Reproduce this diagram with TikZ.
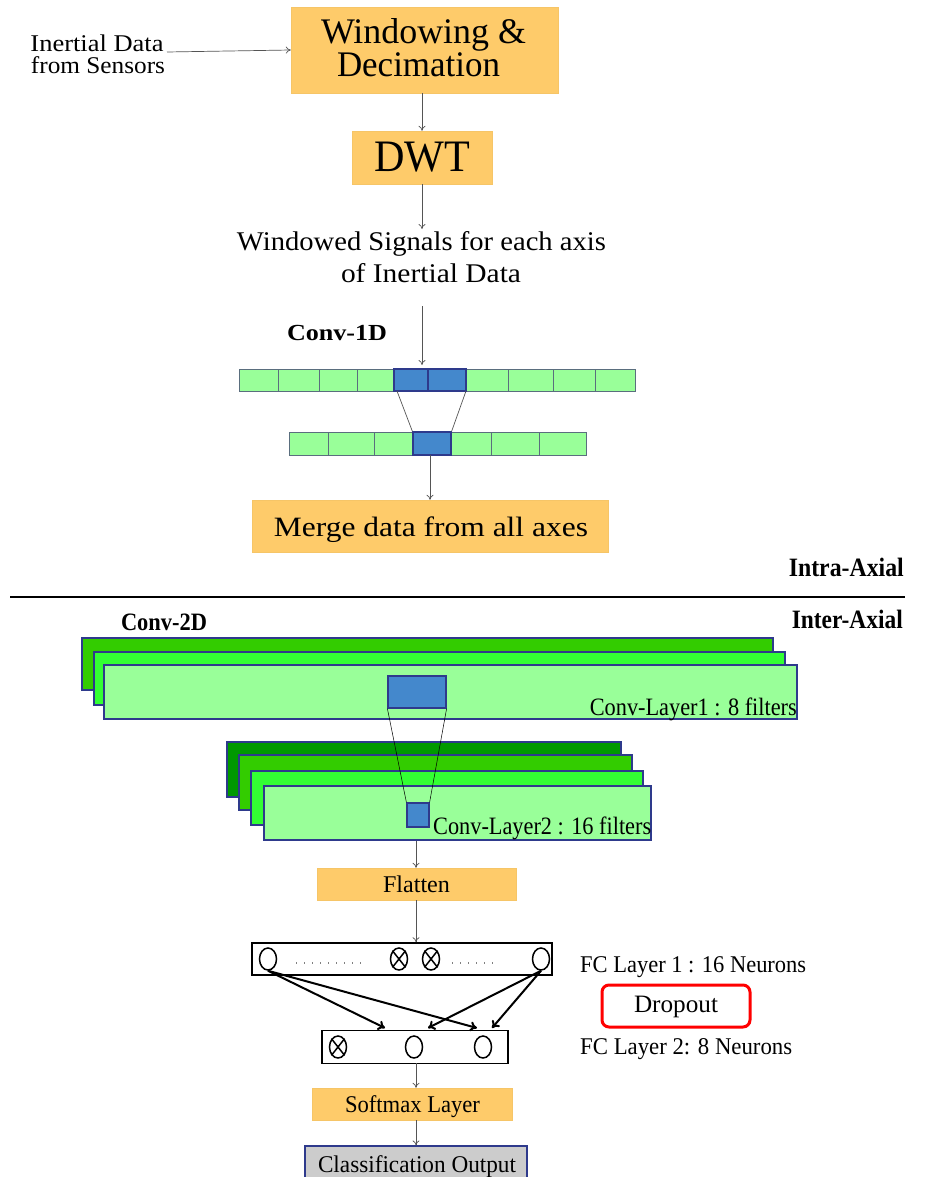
\documentclass[tikz,border=0pt]{standalone}
\usepackage{fontspec}
\setmainfont{Liberation Serif}
\usepackage{graphicx}
\usetikzlibrary{arrows.meta,shapes.geometric}
\definecolor{orng}{HTML}{FECB6A}
\definecolor{lgreen}{HTML}{99FF99}
\definecolor{bgreen}{HTML}{33FF33}
\definecolor{mgreen}{HTML}{33CC00}
\definecolor{dgreen}{HTML}{009900}
\definecolor{cblue}{HTML}{4488CC}
\definecolor{bord}{HTML}{2E3A8C}
\definecolor{cellb}{HTML}{5A6E7E}
\definecolor{gline}{HTML}{555555}
\definecolor{gray1}{HTML}{CCCCCC}
\newcommand{\tw}[2]{\resizebox{#1pt}{\height}{#2}}
\newcommand{\fsz}[1]{\fontsize{#1}{#1}\selectfont}
\tikzset{
  obox/.style={draw=orng!85!black!20!orng, fill=orng, inner sep=0pt, line width=0.4pt},
  arr/.style={draw=gline, line width=0.7pt, -{To[length=5pt,width=7pt]}},
  farr/.style={draw=black, line width=2pt, -{To[length=7pt,width=10pt]}},
  cell/.style={draw=cellb, fill=lgreen, line width=0.8pt},
  bcell/.style={draw=bord, fill=cblue, line width=1.2pt},
  layer/.style={draw=bord, line width=1.2pt},
  neur/.style={draw=black, line width=1.5pt, ellipse, minimum width=17pt, minimum height=22pt, inner sep=0pt},
  lbl/.style={anchor=base, inner sep=0pt},
}
\begin{document}
\begin{tikzpicture}[x=1pt,y=-1pt]
\useasboundingbox (0,0) rectangle (925,1177);
\fill[white] (0,0) rectangle (925,1177);

% top part
\node[lbl, font=\fsz{24}] (inp1) at (97,52) {\tw{133}{Inertial Data}};
\node[lbl, font=\fsz{24}] (inp2) at (98,74) {\tw{134}{from Sensors}};
\node[obox, minimum width=267pt, minimum height=86pt] (win) at (424.5,50) {};
\node[lbl, font=\fsz{36}] (win1) at (423.5,44) {\tw{205}{Windowing \&}};
\node[lbl, font=\fsz{36}] (win2) at (418.5,77) {\tw{163}{Decimation}};
\node[obox, minimum width=140pt, minimum height=53pt] (dwt) at (422,157.5) {};
\node[lbl, font=\fsz{45}] (dwtt) at (422,172) {\tw{96}{DWT}};
\node[lbl, font=\fsz{27}] (ws1) at (421.5,250) {\tw{369}{Windowed Signals for each axis}};
\node[lbl, font=\fsz{27}] (ws2) at (431,282) {\tw{180}{of Inertial Data}};
\coordinate (inpE) at (167,52);
\draw[arr] (inpE) -- (win.west);
\draw[arr] (win.south -| dwt.north) -- (dwt.north);
\coordinate (wsT) at (422,229);
\draw[arr] (dwt.south) -- (wsT);

\node[lbl, font=\bfseries\fsz{23}] (c1d) at (337,340) {\tw{100}{Conv-1D}};
\coordinate (c1s) at (422,306);
\coordinate (c1e) at (422,365);
\draw[arr] (c1s) -- (c1e);

% conv1d rows
\foreach \a/\b in {239/278,278/319,319/357,357/394,466/508,508/553,553/595,595/635}
  \draw[cell] (\a,369) rectangle (\b,391);
\draw[bcell] (394,369) rectangle (428,391);
\draw[bcell] (428,369) rectangle (466,391);
\foreach \a/\b in {289/328,328/374,374/413,451/491,491/539,539/586}
  \draw[cell] (\a,432) rectangle (\b,455);
\node[bcell, minimum width=38pt, minimum height=23pt, inner sep=0pt] (k1) at (432,443.5) {};
\coordinate (t1a) at (397,391);
\coordinate (t1b) at (466,391);
\draw[gline, line width=0.7pt] (t1a) -- (k1.north west);
\draw[gline, line width=0.7pt] (t1b) -- (k1.north east);

\node[obox, minimum width=356pt, minimum height=52pt] (merge) at (430,526) {};
\node[lbl, font=\fsz{28}] (mt) at (431,536) {\tw{314}{Merge data from all axes}};
\coordinate (k1b) at (430,455);
\draw[arr] (k1b) -- (merge.north -| k1b);

% separator
\node[font=\bfseries\fsz{26.5}, anchor=base east, inner sep=0pt] (intra) at (904,576) {\tw{115}{Intra-Axial}};
\coordinate (s1) at (10,597);
\coordinate (s2) at (905,597);
\draw[line width=1.8pt] (s1) -- (s2);
\node[font=\bfseries\fsz{26.5}, anchor=base east, inner sep=0pt] (inter) at (903,628) {\tw{111}{Inter-Axial}};
\node[lbl, font=\bfseries\fsz{25}] (c2d) at (164,630) {\tw{86}{Conv-2D}};

% conv layer 1
\draw[layer, fill=mgreen] (82,638) rectangle (773,690);
\draw[layer, fill=bgreen] (94,652) rectangle (785,705);
\draw[layer, fill=lgreen] (104,665) rectangle (797,719);
\node[bcell, minimum width=58pt, minimum height=32pt, inner sep=0pt] (k2) at (417,692) {};
\node[font=\fsz{25}, anchor=base east, inner sep=0pt] (cl1) at (797,715) {\tw{207}{Conv-Layer1 : 8 filters}};

% conv layer 2
\draw[layer, fill=dgreen] (227,742) rectangle (621,797);
\draw[layer, fill=mgreen] (239,755) rectangle (632,810);
\draw[layer, fill=bgreen] (251,771) rectangle (643,825);
\draw[layer, fill=lgreen] (264,786) rectangle (651,840);
\node[bcell, minimum width=22pt, minimum height=24pt, inner sep=0pt] (k3) at (418,815) {};
\draw[black, line width=0.5pt] (k2.south west) -- (k3.north west);
\draw[black, line width=0.5pt] (k2.south east) -- (k3.north east);
\node[font=\fsz{25}, anchor=base west, inner sep=0pt] (cl2) at (433,834) {\tw{218}{Conv-Layer2 : 16 filters}};

% flatten
\node[obox, minimum width=199pt, minimum height=32pt] (flat) at (416.5,884) {};
\node[lbl, font=\fsz{24}] (flt) at (416.5,892) {\tw{67}{Flatten}};
\coordinate (c2b) at (416,841);
\draw[arr] (c2b) -- (flat.north -| c2b);

% FC1
\node[draw=black, line width=1.6pt, minimum width=300pt, minimum height=32pt, inner sep=0pt] (fc1) at (402,959) {};
\draw[arr] (flat.south -| c2b) -- (fc1.north -| c2b);
\node[neur] (n1) at (268,959) {};
\node[neur] (n2) at (541,959) {};
\node[neur] (x1) at (399,959) {};
\node[neur] (x2) at (431,959) {};
\foreach \n in {x1,x2}{
  \draw[line width=1.5pt] (\n.north west) -- (\n.south east);
  \draw[line width=1.5pt] (\n.north east) -- (\n.south west);
}
\draw[gray, line width=1.2pt, dash pattern=on 1pt off 7pt] (296,963) -- (368,963);
\draw[gray, line width=1.2pt, dash pattern=on 1pt off 7pt] (452,963) -- (494,963);
\node[font=\fsz{24}, anchor=base west, inner sep=0pt] (fl1) at (580,972) {\tw{226}{FC Layer 1 : 16 Neurons}};

% dropout
\node[draw=red, line width=3pt, rounded corners=7pt, minimum width=148pt, minimum height=42pt] (drop) at (676,1006) {};
\node[lbl, font=\fsz{25}] (dt) at (676,1012) {\tw{84}{Dropout}};

% FC2
\node[draw=black, line width=1.6pt, minimum width=186pt, minimum height=33pt, inner sep=0pt] (fc2) at (415,1047) {};
\node[neur] (m1) at (338,1047) {};
\node[neur] (m2) at (414,1047) {};
\node[neur] (m3) at (483,1047) {};
\draw[line width=1.5pt] (m1.north west) -- (m1.south east);
\draw[line width=1.5pt] (m1.north east) -- (m1.south west);
\node[font=\fsz{24}, anchor=base west, inner sep=0pt] (fl2) at (580,1054) {\tw{212}{FC Layer 2: 8 Neurons}};

\coordinate (ta) at (385,1028);
\coordinate (tb) at (477,1028);
\coordinate (tc) at (428,1028);
\coordinate (td) at (492,1028);
\draw[farr] (n1.south) -- (ta);
\draw[farr] (n1.south) -- (tb);
\draw[farr] (n2.south) -- (tc);
\draw[farr] (n2.south) -- (td);

% softmax & output
\node[obox, minimum width=200pt, minimum height=32pt] (soft) at (412,1104) {};
\node[lbl, font=\fsz{24}] (st) at (412.5,1112) {\tw{135}{Softmax Layer}};
\coordinate (c3) at (416,1063);
\draw[arr] (c3) -- (soft.north -| c3);
\node[draw=bord, line width=1.2pt, fill=gray1, minimum width=222pt, minimum height=36pt] (cls) at (416,1164) {};
\node[lbl, font=\fsz{24}] (ct) at (417,1172) {\tw{198}{Classification Output}};
\draw[arr] (soft.south -| c3) -- (cls.north -| c3);
\end{tikzpicture}
\end{document}
